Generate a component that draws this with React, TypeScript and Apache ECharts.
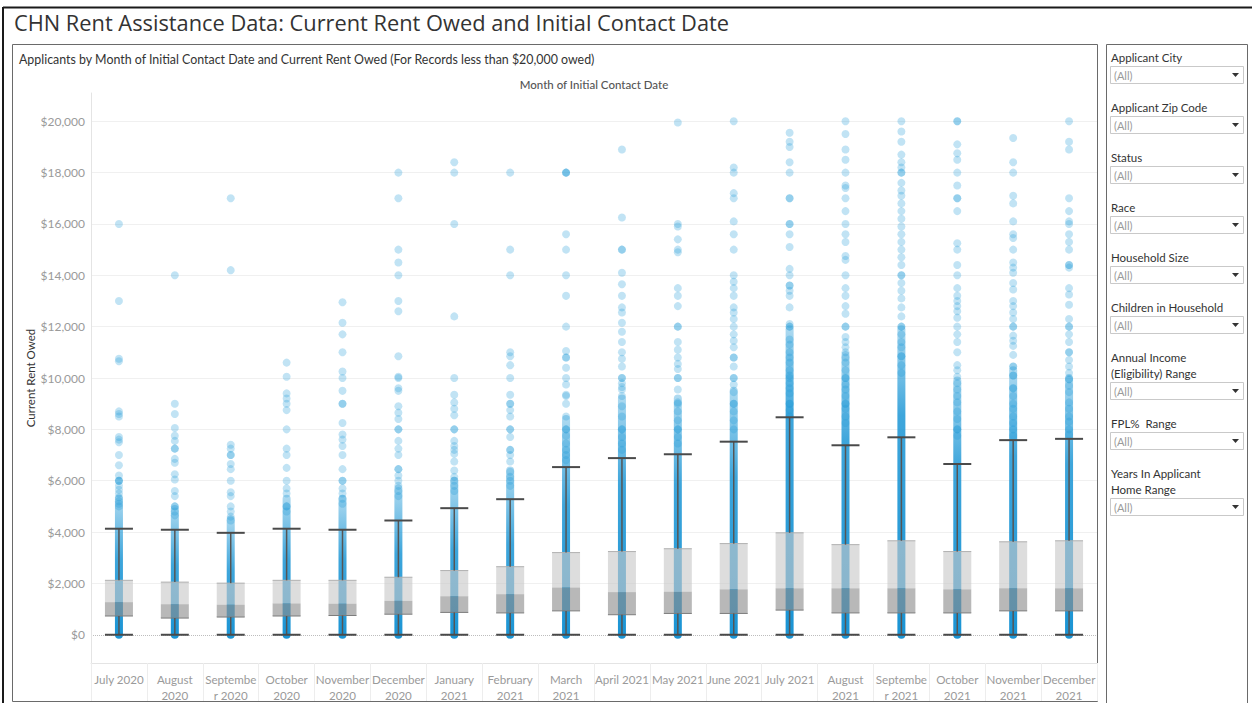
import React, { useEffect, useRef } from "react";
import * as echarts from "echarts";

// ---------- DATA ----------
const categories = [
  "July 2020", "August\n2020", "Septembe\nr 2020", "October\n2020", "November\n2020", "December\n2020",
  "January\n2021", "February\n2021", "March\n2021", "April 2021", "May 2021", "June 2021",
  "July 2021", "August\n2021", "Septembe\nr 2021", "October\n2021", "November\n2021", "December\n2021",
];

const lowerWhisker = [0, 0, 0, 0, 0, 0, 0, 0, 0, 0, 0, 0, 0, 0, 0, 0, 0, 0];
const q1 = [730, 650, 690, 730, 750, 800, 870, 850, 930, 780, 830, 830, 960, 850, 850, 850, 930, 930];
const median = [1270, 1190, 1170, 1220, 1210, 1320, 1500, 1580, 1840, 1660, 1670, 1770, 1810, 1810, 1810, 1770, 1810, 1810];
const q3 = [2120, 2050, 2010, 2120, 2120, 2240, 2500, 2650, 3200, 3240, 3350, 3550, 3970, 3510, 3660, 3240, 3620, 3660];
const upperWhisker = [4130, 4090, 3970, 4130, 4090, 4450, 4930, 5280, 6530, 6880, 7030, 7520, 8470, 7380, 7690, 6650, 7580, 7630];

// value up to which the applicants' points merge into a deep-blue column
const denseTop = [5300, 4900, 4500, 5300, 5300, 5700, 6000, 6400, 8400, 9200, 9200, 9500, 11900, 10900, 11900, 9900, 10300, 10000];

// individually visible applicants (Current Rent Owed), per month
const jul20 = [16000, 13000, 10750, 10650, 8700, 8600, 8500, 7700, 7600, 7500, 7000, 6600, 6200, 6000, 6000, 6000, 5800, 5650, 5500, 5350, 5200, 5100, 5000];
const aug20 = [14000, 9000, 8600, 8050, 7750, 7550, 7250, 7250, 6850, 6700, 6250, 6050, 5600, 5400, 5000, 5000, 4800, 4650];
const sep20 = [17000, 14200, 7400, 7250, 7000, 7000, 6650, 6450, 6000, 5550, 5400, 5000, 4800, 4600, 4450];
const oct20 = [10600, 10050, 9400, 9200, 9000, 8750, 8000, 7250, 7000, 6500, 6000, 5700, 5500, 5000, 5000, 4800];
const nov20 = [12950, 12150, 11700, 11000, 10250, 10000, 9500, 9000, 9000, 8250, 7800, 7600, 7350, 7000, 6450, 6000, 6000, 5700, 5500, 5300, 5100];
const dec20 = [18000, 17000, 15000, 14500, 14000, 13000, 12600, 10850, 10050, 10000, 9600, 9500, 8900, 8650, 8400, 8000, 8000, 7550, 7250, 7000, 6450, 6450, 6200, 6000, 5800, 5600, 5400];
const jan21 = [18400, 18000, 16000, 12400, 10000, 9350, 9050, 8800, 8550, 8000, 8000, 7550, 7350, 7200, 7050, 6750, 6400, 6150, 6000, 5800, 5600];
const feb21 = [18000, 15000, 14000, 11000, 10850, 10500, 10000, 9350, 9000, 9000, 8750, 8500, 8000, 8000, 7700, 7200, 7200, 7000, 6750, 6350, 6150, 6000, 5800];
const mar21 = [18000, 18000, 18000, 15600, 15000, 14000, 13200, 12000, 11050, 10800, 10800, 10400, 10000, 9750, 9350, 9300, 9000, 8500, 8000, 8000, 7750, 7450, 7200, 7000, 6800];
const apr21 = [18900, 16250, 15000, 15000, 14100, 13650, 13200, 12750, 12550, 12150, 11800, 11400, 11000, 10750, 10450, 10000, 10000, 9800, 9650, 9550, 9300, 8900, 8500, 8000, 8000, 7700, 7450, 7200];
const may21 = [19950, 16000, 15900, 15400, 15000, 14900, 13500, 13200, 12800, 12000, 12000, 11400, 11100, 10800, 10550, 10350, 10000, 10000, 9550, 9050, 9000, 8700, 8350, 8000, 8000, 7700, 7450];
const jun21 = [20000, 18200, 18000, 17200, 17000, 16100, 15600, 15000, 14000, 13750, 13500, 13200, 12750, 12550, 12300, 12000, 11700, 11450, 11200, 10800, 10800, 10450, 10000, 10000, 9750, 9450, 9000, 9000, 8700, 8350, 8000];
const jul21 = [19550, 19200, 19000, 18400, 18000, 17000, 17000, 16000, 16000, 15600, 15100, 14250, 14000, 13600, 13600, 13400, 13200, 12750, 12100, 12000, 12000, 11500, 11300, 11000, 10800, 10600, 10300, 10100, 10000, 9800, 9600, 9400, 9000, 9000, 8750, 8500];
const aug21 = [20000, 19500, 18900, 18500, 18000, 17500, 17400, 17000, 16500, 16000, 15600, 15300, 14750, 14600, 14000, 13500, 13200, 12800, 12500, 12000, 12000, 11600, 11400, 11200, 11000, 10800, 10600, 10300, 10000, 10000, 9750, 9550, 9300, 9000, 9000, 8800, 8500, 8250];
const sep21 = [20000, 19600, 19200, 18700, 18400, 18200, 18000, 18000, 17600, 17300, 17100, 16800, 16500, 16200, 15900, 15600, 15300, 15000, 14700, 14400, 14000, 14000, 13700, 13400, 13100, 12750, 12400, 12000, 12000, 11700, 11400, 11200, 10850, 10850, 10500, 10200];
const oct21 = [20000, 20000, 19100, 18750, 18500, 18000, 17500, 17000, 17000, 16500, 15250, 15000, 14400, 14000, 13500, 13200, 13000, 12800, 12600, 12350, 12000, 11700, 11400, 11000, 10500, 10300, 10050, 9800, 9550, 9300, 9050, 8700, 8400, 8000, 8000, 7750];
const nov21 = [19350, 18400, 18000, 17100, 16800, 16100, 15600, 15450, 15000, 14500, 14300, 14100, 13700, 13450, 13000, 12800, 12550, 12300, 12000, 12000, 11650, 11450, 11250, 10900, 10450, 10450, 10100, 10100, 9600, 9600, 9300, 9000, 8800, 8500, 8250, 8000, 7750];
const dec21 = [20000, 19200, 18900, 17000, 16500, 16100, 16000, 15600, 15300, 15000, 14400, 14400, 14300, 13500, 13250, 12850, 12300, 12000, 12000, 11700, 11400, 11000, 11000, 10700, 10450, 10200, 9950, 9950, 9700, 9450, 9050, 8800, 8500, 8300, 8000, 7800];

const monthPoints = [jul20, aug20, sep20, oct20, nov20, dec20, jan21, feb21, mar21, apr21, may21, jun21, jul21, aug21, sep21, oct21, nov21, dec21];

const yTicks = [0, 2000, 4000, 6000, 8000, 10000, 12000, 14000, 16000, 18000, 20000];

const titleText = "CHN Rent Assistance Data: Current Rent Owed and Initial Contact Date";
const subtitleText = "Applicants by Month of Initial Contact Date and Current Rent Owed (For Records less than $20,000 owed)";
const columnHeader = "Month of Initial Contact Date";
const yAxisTitle = "Current Rent Owed";
const filterNames = [
  "Applicant City", "Applicant Zip Code", "Status", "Race", "Household Size",
  "Children in Household", "Annual Income\n(Eligibility) Range", "FPL%  Range", "Years In Applicant\nHome Range",
];
const filterValue = "(All)";

// ---------- CHART ----------
const FONT = "Lato, 'Noto Sans', sans-serif";
const TITLE_FONT = "'Open Sans', 'Noto Sans', sans-serif";

function buildFilterGraphics() {
  const out: any[] = [];
  let y = 57;
  filterNames.forEach((name) => {
    const lines = name.split("\n").length;
    out.push({
      type: "text", left: 1111, top: y - 8,
      style: { text: name, fill: "#333", font: `11.5px ${FONT}`, lineHeight: 16 },
    });
    const boxTop = y + 9 + 16 * (lines - 1);
    out.push({
      type: "rect", shape: { x: 1110.5, y: boxTop + 0.5, width: 133, height: 17 },
      style: { fill: "#fff", stroke: "#c9c9c9", lineWidth: 1 },
    });
    out.push({
      type: "text", x: 1114, y: boxTop + 9,
      style: { text: filterValue, fill: "#9a9a9a", font: `11px ${FONT}`, textVerticalAlign: "middle" },
    });
    out.push({
      type: "polygon",
      shape: { points: [[1232, boxTop + 7], [1239, boxTop + 7], [1235.5, boxTop + 11]] },
      style: { fill: "#333" },
    });
    y += 50 + 16 * (lines - 1);
  });
  return out;
}

export default function App() {
  const ref = useRef<HTMLDivElement>(null);
  useEffect(() => {
    if (!ref.current) return;
    const chart = echarts.init(ref.current, undefined, { renderer: "svg" });

    const scatterData: number[][] = [];
    monthPoints.forEach((arr, i) => arr.forEach((v) => scatterData.push([i, v])));
    const boxData = categories.map((_, i) => [i, lowerWhisker[i], q1[i], median[i], q3[i], upperWhisker[i]]);
    const denseData = categories.map((_, i) => [i, 0, denseTop[i]]);

    const option: any = {
      animation: false,
      backgroundColor: "#fff",
      textStyle: { fontFamily: FONT },
      grid: { left: 91, right: 157, top: 93, bottom: 38, containLabel: false },
      xAxis: {
        type: "category",
        data: categories,
        boundaryGap: true,
        axisLine: { show: true, onZero: false, lineStyle: { color: "#e4e4e4" } },
        axisTick: { show: true, length: 38, interval: 0, lineStyle: { color: "#ededed" } },
        axisLabel: { interval: 0, color: "#9a9a9a", fontSize: 11.6, lineHeight: 16, margin: 8, fontFamily: FONT },
        splitLine: { show: false },
      },
      yAxis: {
        type: "value",
        min: -1100,
        max: 21100,
        axisLabel: { show: false },
        axisTick: { show: false },
        splitLine: { show: false },
        axisLine: { show: true, lineStyle: { color: "#e4e4e4" } },
      },
      series: [
        {
          type: "custom",
          name: "dense",
          z: 1,
          data: denseData,
          encode: { x: 0, y: [1, 2] },
          renderItem: (params: any, api: any) => {
            const i = api.value(0);
            const p0 = api.coord([i, api.value(1)]);
            const p1 = api.coord([i, api.value(2)]);
            const h = p0[1] - p1[1] + 8;
            const fadeEnd = Math.min(0.45, 90 / h);
            return {
              type: "rect",
              shape: { x: p0[0] - 4, y: p1[1] - 4, width: 8, height: h, r: 4 },
              style: {
                fill: new echarts.graphic.LinearGradient(0, 0, 0, 1, [
                  { offset: 0, color: "rgba(30,152,214,0.35)" },
                  { offset: fadeEnd, color: "rgba(28,150,213,0.85)" },
                  { offset: 1, color: "rgba(26,148,212,1)" },
                ]),
              },
            };
          },
        },
        {
          type: "scatter",
          name: "applicants",
          z: 2,
          symbolSize: 8,
          data: scatterData,
          itemStyle: { color: "#1f9bd8", opacity: 0.28 },
          silent: true,
          markLine: {
            silent: true,
            z: 0,
            symbol: ["none", "none"],
            animation: false,
            label: {
              position: "start",
              color: "#9a9a9a",
              fontSize: 12,
              fontFamily: FONT,
              distance: 6,
            },
            data: yTicks.map((v) => ({
              yAxis: v,
              label: { formatter: "$" + v.toLocaleString("en-US") },
              lineStyle: v === 0
                ? { color: "#bdbdbd", type: "dotted", width: 1 }
                : { color: "#f0f0f0", type: "solid", width: 1 },
            })),
          },
        },
        {
          type: "custom",
          name: "box",
          z: 3,
          data: boxData,
          encode: { x: 0, y: [1, 2, 3, 4, 5] },
          renderItem: (params: any, api: any) => {
            const i = api.value(0);
            const x = api.coord([i, 0])[0];
            const yLo = api.coord([i, api.value(1)])[1];
            const yQ1 = api.coord([i, api.value(2)])[1];
            const yMed = api.coord([i, api.value(3)])[1];
            const yQ3 = api.coord([i, api.value(4)])[1];
            const yUp = api.coord([i, api.value(5)])[1];
            const hw = 14;
            return {
              type: "group",
              children: [
                { type: "rect", shape: { x: x - hw, y: yQ3, width: hw * 2, height: yMed - yQ3 }, style: { fill: "rgba(200,200,200,0.62)" } },
                { type: "rect", shape: { x: x - hw, y: yMed, width: hw * 2, height: yQ1 - yMed }, style: { fill: "rgba(140,140,140,0.62)" } },
                { type: "line", shape: { x1: x - hw, y1: yQ3, x2: x + hw, y2: yQ3 }, style: { stroke: "#b0b0b0", lineWidth: 1 } },
                { type: "line", shape: { x1: x - hw, y1: yQ1, x2: x + hw, y2: yQ1 }, style: { stroke: "#7d7d7d", lineWidth: 1 } },
                { type: "line", shape: { x1: x, y1: yQ3, x2: x, y2: yUp }, style: { stroke: "#555", lineWidth: 1.5 } },
                { type: "line", shape: { x1: x, y1: yQ1, x2: x, y2: yLo }, style: { stroke: "#555", lineWidth: 1.5 } },
                { type: "line", shape: { x1: x - hw, y1: yUp, x2: x + hw, y2: yUp }, style: { stroke: "#4a4a4a", lineWidth: 2 } },
                { type: "line", shape: { x1: x - hw, y1: yLo, x2: x + hw, y2: yLo }, style: { stroke: "#4a4a4a", lineWidth: 2 } },
              ],
            };
          },
        },
      ],
      graphic: [
        // outer frame
        { type: "line", shape: { x1: 3, y1: 7.5, x2: 1252, y2: 7.5 }, style: { stroke: "#1a1a1a", lineWidth: 2 } },
        { type: "line", shape: { x1: 3, y1: 7, x2: 3, y2: 710 }, style: { stroke: "#1a1a1a", lineWidth: 2 } },
        // panels
        { type: "rect", shape: { x: 12.5, y: 44.5, width: 1085, height: 657 }, style: { fill: "none", stroke: "#6a6a6a", lineWidth: 1 } },
        { type: "rect", shape: { x: 1106.5, y: 44.5, width: 141, height: 680 }, style: { fill: "none", stroke: "#6a6a6a", lineWidth: 1 } },
        // texts
        { type: "text", x: 14, y: 22, style: { text: titleText, fill: "#333", font: `21.8px ${TITLE_FONT}`, textVerticalAlign: "middle" } },
        { type: "text", x: 19, y: 59, style: { text: subtitleText, fill: "#333", font: `12.4px ${FONT}`, textVerticalAlign: "middle" } },
        { type: "text", x: 594, y: 84, style: { text: columnHeader, fill: "#555", font: `500 11.5px ${FONT}`, textAlign: "center", textVerticalAlign: "middle" } },
        { type: "text", x: 30, y: 378, rotation: Math.PI / 2, style: { text: yAxisTitle, fill: "#333", font: `11.5px ${FONT}`, textAlign: "center", textVerticalAlign: "middle" } },
        ...buildFilterGraphics(),
      ],
    };
    chart.setOption(option);
    return () => chart.dispose();
  }, []);

  return <div ref={ref} style={{ position: "absolute", left: 0, top: 0, width: 1254, height: 703 }} />;
}
